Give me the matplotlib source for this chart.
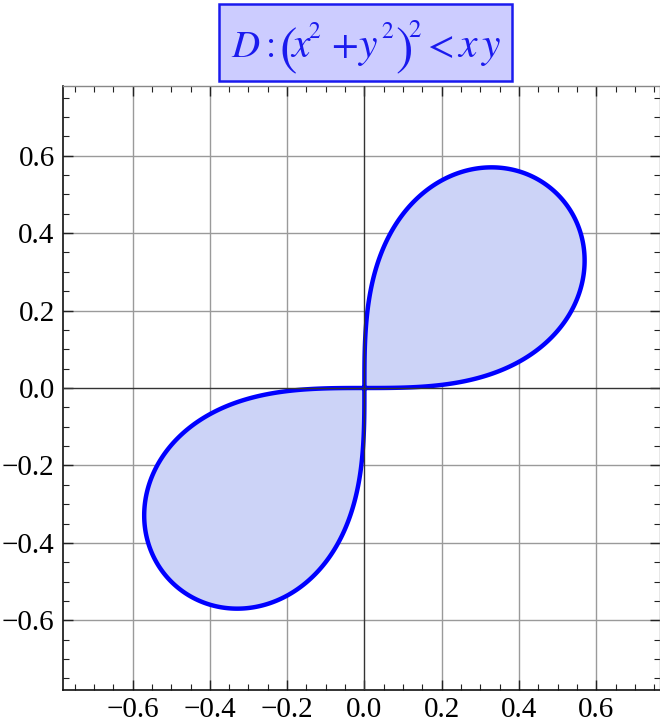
import numpy as np
import matplotlib
matplotlib.use("Agg")
import matplotlib.pyplot as plt
from matplotlib.ticker import MultipleLocator, FuncFormatter
from matplotlib.patches import Rectangle

# Region D: (x^2 + y^2)^2 < x*y
power_inner = 2
power_outer = 2
x_range = (-0.78, 0.765)
y_range = (-0.78, 0.78)
major_ticks = [-0.6, -0.4, -0.2, 0.0, 0.2, 0.4, 0.6]

plt.rcParams["font.family"] = ["Liberation Serif", "DejaVu Serif"]
plt.rcParams["mathtext.fontset"] = "stix"

W, H = 660, 727
fig = plt.figure(figsize=(W / 100, H / 100), dpi=100)
ax = fig.add_axes([63 / W, 1 - 690 / H, (W - 63) / W, (690 - 86) / H])

gx = np.linspace(x_range[0], x_range[1], 1200)
gy = np.linspace(y_range[0], y_range[1], 1200)
X, Y = np.meshgrid(gx, gy)
F = (X**power_inner + Y**power_inner) ** power_outer - X * Y

ax.contourf(X, Y, F, levels=[F.min() - 1, 0], colors=["#ccd3f7"], zorder=2)
ax.contour(X, Y, F, levels=[0], colors=["#0000ff"], linewidths=3.2, zorder=3)

for t in major_ticks:
    if t == 0:
        continue
    ax.axvline(t, color="#9a9a9a", lw=1.0, zorder=1)
    ax.axhline(t, color="#9a9a9a", lw=1.0, zorder=1)
ax.axvline(0, color="#333333", lw=1.0, zorder=4)
ax.axhline(0, color="#333333", lw=1.0, zorder=4)


def fmt(v, _pos):
    s = f"{abs(v):.1f}"
    return ("\u2212" + s) if v < -1e-9 else s


ax.set_xlim(*x_range)
ax.set_ylim(*y_range)
ax.set_xticks(major_ticks)
ax.set_yticks(major_ticks)
ax.xaxis.set_minor_locator(MultipleLocator(0.05))
ax.yaxis.set_minor_locator(MultipleLocator(0.05))
ax.xaxis.set_major_formatter(FuncFormatter(fmt))
ax.yaxis.set_major_formatter(FuncFormatter(fmt))
ax.tick_params(which="both", direction="in", top=True, right=True,
               labelsize=21, color="#222222")
ax.tick_params(axis="y", pad=6)
ax.tick_params(axis="x", pad=5)
ax.tick_params(which="major", length=7, width=1.0)
ax.tick_params(which="minor", length=4, width=0.8)

for side in ["left", "bottom"]:
    ax.spines[side].set_color("#111111")
    ax.spines[side].set_linewidth(1.2)
for side in ["top", "right"]:
    ax.spines[side].set_color("#888888")
    ax.spines[side].set_linewidth(1.0)

# Title box with the typeset inequality
title_color = "#1a1aee"
fig.patches.append(Rectangle((219 / W, 1 - 81 / H), (512 - 219) / W, (81 - 4) / H,
                             transform=fig.transFigure, facecolor="#ccccff",
                             edgecolor=title_color, linewidth=1.8, zorder=0))
# (glyph, left x px, baseline y px, size, italic)
title_glyphs = [
    ("D", 231, 57, 28, True),
    (":", 266, 57, 27, False),
    ("(", 279, 64, 38, False),
    ("x", 291, 57, 30, True),
    ("2", 308, 38, 17, False),
    ("+", 331, 57, 28, False),
    ("y", 359, 57, 30, True),
    ("2", 381, 38, 17, False),
    (")", 395, 64, 38, False),
    ("2", 408, 37, 18, False),
    ("<", 428, 57, 28, False),
    ("x", 458, 57, 30, True),
    ("y", 482, 57, 30, True),
]
for g, px, py, fs, it in title_glyphs:
    fig.text(px / W, 1 - py / H, g, ha="left", va="baseline", fontsize=fs,
             color=title_color, style="italic" if it else "normal",
             family=["STIXGeneral", "DejaVu Serif"], zorder=5)

fig.savefig("out.png", dpi=100, facecolor="white")
